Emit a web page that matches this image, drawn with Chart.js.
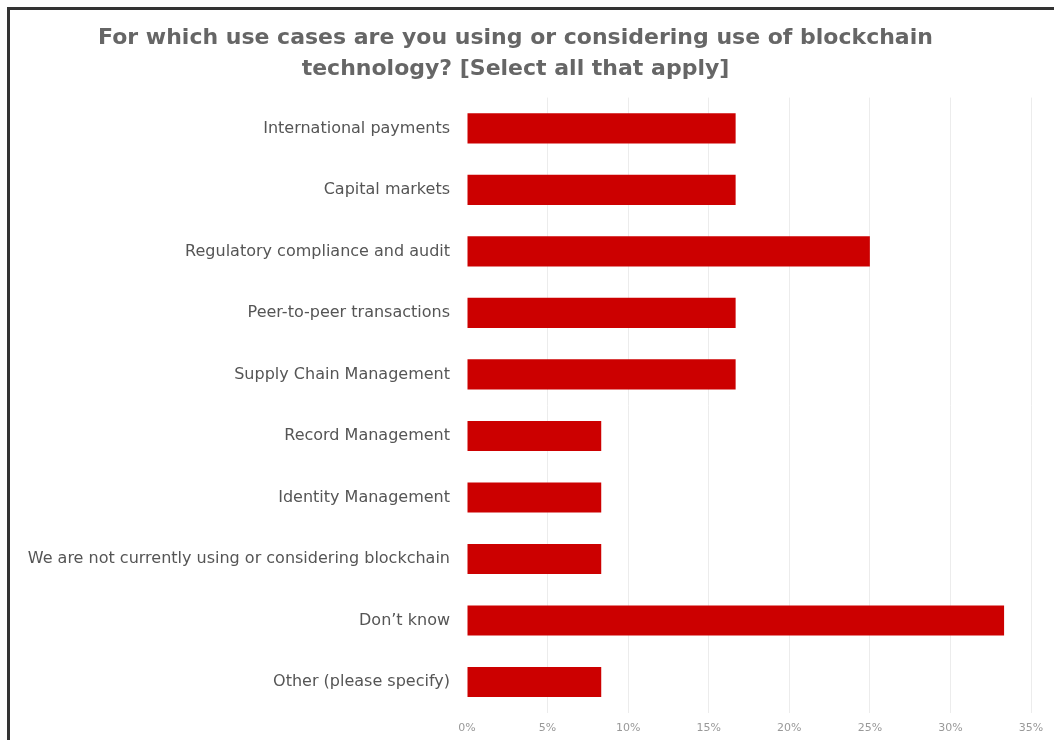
<!DOCTYPE html>
<html>
<head>
<meta charset="utf-8">
<script src="https://cdn.jsdelivr.net/npm/chart.js@4"></script>
<style>
  html, body { margin: 0; padding: 0; background: #fff; overflow: hidden; }
  #frame {
    position: absolute; left: 7px; top: 7px;
    width: 1100px; height: 800px;
    border: 3px solid #333;
  }
  #wrap { position: absolute; left: 0; top: 0; width: 1054px; height: 744px; }
</style>
</head>
<body>
<div id="frame"></div>
<div id="wrap"><canvas id="graph1"></canvas></div>
<script>
const useCases = [
    'International payments',
    'Capital markets',
    'Regulatory compliance and audit',
    'Peer-to-peer transactions',
    'Supply Chain Management',
    'Record Management',
    'Identity Management',
    'We are not currently using or considering blockchain',
    'Don\u2019t know',
    'Other (please specify)'
];
const shares = [16.67, 16.67, 25, 16.67, 16.67, 8.33, 8.33, 8.33, 33.33, 8.33];
const xTicks = [0, 5, 10, 15, 20, 25, 30, 35];

const config = {
    type: 'bar',
    data: {
        labels: useCases,
        datasets: [{
            data: shares,
            backgroundColor: '#cc0000',
            borderWidth: 0,
            categoryPercentage: 1,
            barPercentage: 0.49
        }]
    },
    options: {
        indexAxis: 'y',
        responsive: true,
        maintainAspectRatio: false,
        animation: false,
        layout: {
            padding: { left: 0, right: 23, top: 0, bottom: 0 }
        },
        scales: {
            x: {
                min: 0,
                max: 35,
                afterBuildTicks: axis => {
                    axis.ticks = xTicks.map(v => ({ value: v }));
                },
                border: { display: false },
                grid: {
                    drawTicks: false,
                    color: ctx => ctx.tick && ctx.tick.value === 0 ? 'rgba(0,0,0,0)' : '#ececec'
                },
                ticks: {
                    padding: 9,
                    color: '#999',
                    font: { family: 'DejaVu Sans', size: 11 },
                    callback: v => v + '%'
                }
            },
            y: {
                // fixed label column so the bars start at the same spot
                afterFit: axis => { axis.width = 467; },
                border: { display: false },
                grid: { display: false, drawTicks: false },
                ticks: {
                    padding: 17,
                    color: '#555',
                    font: { family: 'DejaVu Sans', size: 16 }
                }
            }
        },
        plugins: {
            legend: { display: false },
            tooltip: { enabled: false },
            title: {
                display: true,
                text: ['For which use cases are you using or considering use of blockchain',
                       'technology? [Select all that apply]'],
                color: '#666',
                font: { family: 'DejaVu Sans', size: 22, weight: 'bold', lineHeight: 1.4 },
                padding: { top: 23, bottom: 13 }
            }
        }
    }
};

const myChart = new Chart(document.getElementById('graph1'), config);
</script>
</body>
</html>
